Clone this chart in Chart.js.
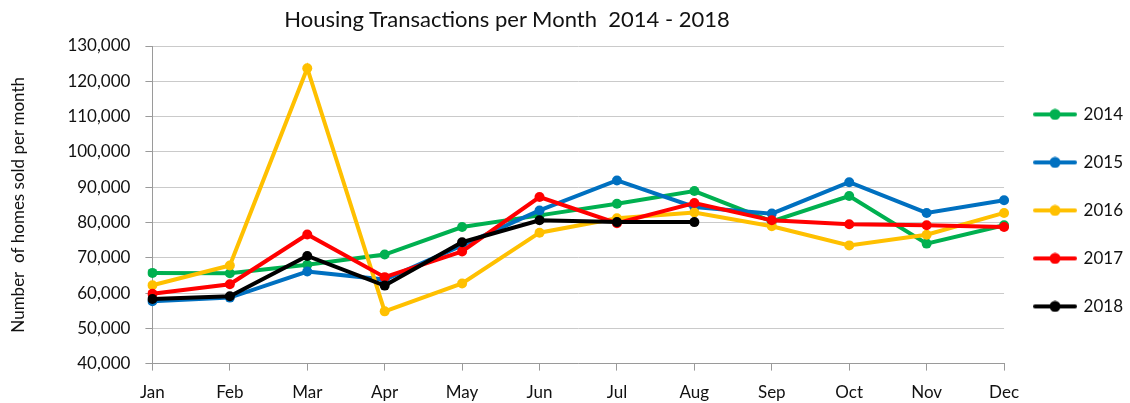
<!DOCTYPE html>
<html>
<head>
<meta charset="utf-8">
<script src="https://cdn.jsdelivr.net/npm/chart.js@4.4.0/dist/chart.umd.min.js"></script>
<style>
  body { margin: 0; background: #fff; }
  #wrap { position: relative; width: 1130px; height: 403px; }
  #titulo {
    position: absolute; left: 0; top: 6px; width: 1014px;
    text-align: center; font: 22px Lato, sans-serif; line-height: 26px; color: #111;
    white-space: pre;
  }
</style>
</head>
<body>
<div id="wrap">
  <canvas id="grafico" width="1130" height="403"></canvas>
  <div id="titulo">Housing Transactions per Month  2014 - 2018</div>
</div>
<script>
// dados
let meses = ["Jan", "Feb", "Mar", "Apr", "May", "Jun", "Jul", "Aug", "Sep", "Oct", "Nov", "Dec"];
let anos = ["2014", "2015", "2016", "2017", "2018"];

let vendas2014 = [65700, 65600, 68000, 70900, 78700, 82000, 85300, 88900, 80300, 87500, 74000, 79200];
let vendas2015 = [57700, 58700, 66100, 63800, 73500, 83400, 91900, 84400, 82500, 91400, 82700, 86300];
let vendas2016 = [62200, 67800, 123700, 54800, 62700, 77100, 81200, 82800, 78900, 73500, 76500, 82700];
let vendas2017 = [59800, 62500, 76600, 64500, 71800, 87200, 79800, 85500, 80600, 79500, 79200, 78700];
let vendas2018 = [58300, 59100, 70500, 62100, 74400, 80600, 80100, 80100];

let yTicks = [40000, 50000, 60000, 70000, 80000, 90000, 100000, 110000, 120000, 130000];

let cores = ["#00B050", "#0070C0", "#FFC000", "#FF0000", "#000000"];
let series = [vendas2014, vendas2015, vendas2016, vendas2017, vendas2018];

let fonte = "Lato, sans-serif";
let corTexto = "#111";
let cinza = "#9a9a9a";

// icone da legenda: linha com bolinha
function iconeLegenda(cor) {
  let c = document.createElement("canvas");
  c.width = 44;
  c.height = 12;
  let ctx = c.getContext("2d");
  ctx.strokeStyle = cor;
  ctx.lineWidth = 4;
  ctx.lineCap = "round";
  ctx.beginPath();
  ctx.moveTo(2, 6);
  ctx.lineTo(42, 6);
  ctx.stroke();
  ctx.fillStyle = cor;
  ctx.beginPath();
  ctx.arc(22, 6, 5.5, 0, Math.PI * 2);
  ctx.fill();
  return c;
}
let icones = cores.map(iconeLegenda);

let datasets = anos.map((ano, i) => ({
  label: ano,
  data: series[i],
  borderColor: cores[i],
  backgroundColor: cores[i],
  pointBackgroundColor: cores[i],
  pointBorderColor: cores[i],
  borderWidth: 4,
  pointRadius: 5,
  pointBorderWidth: 0,
  pointHoverRadius: 5,
  tension: 0,
  order: anos.length - i,
}));

new Chart(document.getElementById("grafico"), {
  type: "line",
  data: { labels: meses, datasets: datasets },
  options: {
    responsive: false,
    animation: false,
    events: [],
    layout: { padding: { top: 46, right: -3, bottom: -12, left: 0 } },
    plugins: {
      tooltip: { enabled: false },
      title: { display: false },
      legend: {
        position: "right",
        fullSize: false,
        title: { display: true, text: "", font: { size: 1 }, padding: { top: 5, bottom: 5 } },
        labels: {
          usePointStyle: true,
          pointStyleWidth: 40,
          padding: 31,
          color: corTexto,
          font: { family: fonte, size: 17 },
          sort: (a, b) => a.datasetIndex - b.datasetIndex,
          generateLabels: (chart) => {
            let itens = Chart.defaults.plugins.legend.labels.generateLabels(chart);
            itens.forEach((it) => {
              it.pointStyle = icones[it.datasetIndex];
            });
            return itens;
          },
        },
      },
    },
    scales: {
      x: {
        offset: false,
        grid: { drawOnChartArea: false, drawTicks: true, tickLength: 7, tickColor: cinza },
        border: { color: cinza, width: 1 },
        ticks: { color: corTexto, font: { family: fonte, size: 17 }, padding: 12, maxRotation: 0 },
      },
      y: {
        min: 40000,
        max: 130000,
        afterBuildTicks: (axis) => {
          axis.ticks = yTicks.map((v) => ({ value: v }));
        },
        grid: { color: "#cacaca", lineWidth: 1, tickLength: 7, tickColor: cinza },
        border: { color: cinza, width: 1 },
        ticks: {
          color: corTexto,
          font: { family: fonte, size: 17 },
          padding: 15,
          callback: (v) => v.toLocaleString("en-US"),
        },
        title: {
          display: true,
          text: "Number  of homes sold per month",
          color: corTexto,
          font: { family: fonte, size: 17 },
          padding: { top: 8, bottom: 24 },
        },
      },
    },
  },
});
</script>
</body>
</html>
